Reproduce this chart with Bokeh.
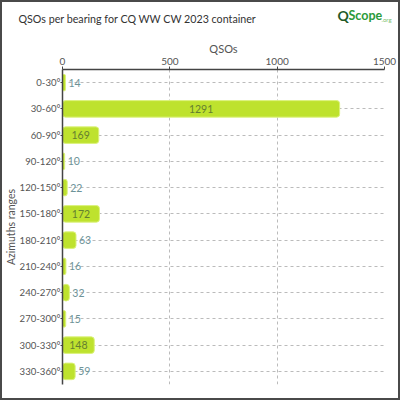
import math
from bokeh.plotting import figure
from bokeh.models import ColumnDataSource, Range1d, FactorRange, Label, BoxAnnotation, Title
from bokeh.embed import file_html
from bokeh.resources import INLINE
from bokeh.core.properties import value

categories = ["0-30°", "30-60°", "60-90°", "90-120°", "120-150°", "150-180°",
              "180-210°", "210-240°", "240-270°", "270-300°", "300-330°", "330-360°"]
qsos = [14, 1291, 169, 10, 22, 172, 63, 16, 32, 15, 148, 59]
x_ticks = [0, 500, 1000, 1500]

FONT = "Lato"

inside = [v >= 100 for v in qsos]
src_in = ColumnDataSource(dict(
    y=[c for c, i in zip(categories, inside) if i],
    x=[v / 2 for v, i in zip(qsos, inside) if i],
    t=[str(v) for v, i in zip(qsos, inside) if i]))
src_out = ColumnDataSource(dict(
    y=[c for c, i in zip(categories, inside) if not i],
    x=[v for v, i in zip(qsos, inside) if not i],
    t=[str(v) for v, i in zip(qsos, inside) if not i]))
bars = ColumnDataSource(dict(y=categories, x=qsos))

p = figure(width=400, height=400, output_backend="svg", toolbar_location=None,
           x_range=Range1d(0, 1500), y_range=FactorRange(*reversed(categories)),
           x_axis_location="above", min_border_left=59, min_border_right=18,
           min_border_top=59, min_border_bottom=18)
p.styles = {"border": "2px solid #4a4a4a"}
p.outline_line_color = None

p.title.text = "QSOs per bearing for CQ WW CW 2023 container"
p.title.text_font = FONT
p.title.text_font_style = "normal"
p.title.text_font_size = "10.7px"
p.title.text_color = "#333333"
p.title.align = "left"
p.title.offset = -44
p.title.standoff = 14

p.hbar(y="y", right="x", left=0, height=0.63, source=bars, fill_color="#bee22e",
       line_color="#dcf27e", line_width=1, border_radius=3)

p.text(x="x", y="y", text="t", source=src_in, text_align="center", text_baseline="middle",
       text_font=value(FONT), text_font_size="10.5px", text_color="#647f30")
p.text(x="x", y="y", text="t", source=src_out, text_align="left", text_baseline="middle",
       x_offset=3, text_font=value(FONT), text_font_size="10.5px", text_color="#6d9398")

p.xaxis.ticker = x_ticks
p.xaxis.axis_label = "QSOs"
for ax in (p.xaxis, p.yaxis):
    ax.axis_label_text_font = FONT
    ax.axis_label_text_font_style = "normal"
    ax.axis_label_text_font_size = "11px"
    ax.axis_label_text_color = "#555555"
    ax.major_label_text_font = FONT
    ax.major_label_text_font_size = "10px"
    ax.major_label_text_color = "#555555"
    ax.axis_line_color = "#444444"
    ax.axis_line_width = 1.5
    ax.major_tick_line_color = "#444444"
    ax.major_tick_in = 0
    ax.major_tick_out = 3
    ax.minor_tick_line_color = None
    ax.axis_label_standoff = 0
    ax.major_label_standoff = 2
p.yaxis.major_label_standoff = 0
p.yaxis.major_tick_out = 2
p.yaxis.major_label_text_font_size = "9.6px"

p.xgrid.grid_line_color = "#bbbbbb"
p.xgrid.grid_line_dash = "3 3"
p.ygrid.grid_line_color = "#bbbbbb"
p.ygrid.grid_line_dash = "3 3"

# y axis label as a left-side title
ytitle = Title(text="Azimuths ranges", align="center", text_font=FONT,
               text_font_style="normal", text_font_size="10.5px",
               text_color="#555555", standoff=0)
p.add_layout(ytitle, "left")

# logo (canvas units: origin at the canvas' top-left, y downwards);
# each part sits in a side panel that has room to spare, so it is not clipped
p.add_layout(BoxAnnotation(left=330, right=390, top=1, bottom=22,
                           left_units="canvas", right_units="canvas",
                           top_units="canvas", bottom_units="canvas",
                           fill_alpha=0, line_color="#dde6ae", line_width=1,
                           border_radius=3), "below")
p.add_layout(Label(x=333, y=11, x_units="canvas", y_units="canvas", text="Q",
                   text_font=FONT, text_font_style="bold", text_font_size="14px",
                   text_color="#1f5a2a", text_baseline="middle"), "right")
p.add_layout(Label(x=344, y=11, x_units="canvas", y_units="canvas", text="Scope",
                   text_font=FONT, text_font_style="bold", text_font_size="12.5px",
                   text_color="#2a9a3a", text_baseline="middle"), "below")
p.add_layout(Label(x=377, y=15, x_units="canvas", y_units="canvas", text=".org",
                   text_font=FONT, text_font_size="6px",
                   text_color="#7ac070", text_baseline="middle"), "above")

open("out.html", "w").write(file_html(p, INLINE))
